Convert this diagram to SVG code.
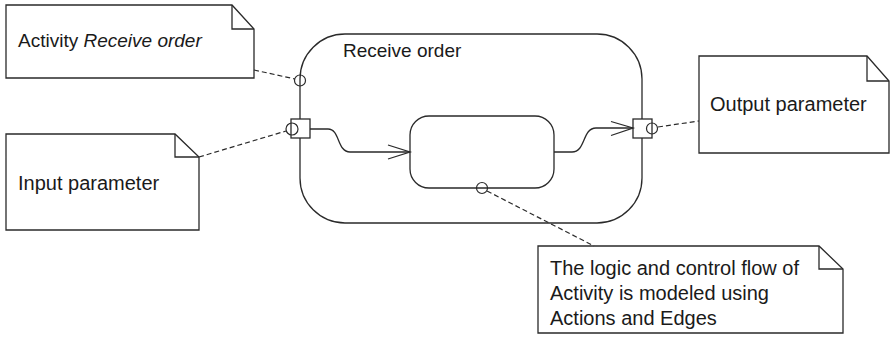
<svg xmlns="http://www.w3.org/2000/svg" width="890" height="344" viewBox="0 0 890 344">
  <style>
    .shape { fill: #ffffff; stroke: #2a2a2a; stroke-width: 1.3; }
    .line { fill: none; stroke: #2a2a2a; stroke-width: 1.3; }
    .dash { fill: none; stroke: #2a2a2a; stroke-width: 1.2; stroke-dasharray: 5 3; }
    .anchor { fill: none; stroke: #2a2a2a; stroke-width: 1.2; }
    .label { font-family: "Liberation Sans", Arial, sans-serif; font-size: 20px; fill: #1a1a1a; }
  </style>
  <rect width="890" height="344" fill="#ffffff"/>

  <!-- Activity frame -->
  <g id="activity">
    <rect class="shape" x="300" y="34" width="342" height="189" rx="45" ry="45"/>
    <text class="label" x="343" y="57" style="font-size:19px">Receive order</text>
  </g>

  <!-- Action inside the activity -->
  <g id="action">
    <rect class="shape" x="410" y="116" width="144" height="72" rx="19" ry="19"/>
  </g>

  <!-- Parameter pins -->
  <g id="pin-input">
    <rect class="shape" x="291" y="119" width="19" height="19"/>
  </g>
  <g id="pin-output">
    <rect class="shape" x="633" y="119" width="19" height="19"/>
  </g>

  <!-- Notes -->
  <g id="note-activity">
    <path class="shape" d="M6 5 H232 L254 29 V78 H6 Z"/>
    <path class="line" d="M232 5 V29 H254"/>
    <text class="label" x="18" y="47" style="font-size:19px">Activity <tspan font-style="italic">Receive order</tspan></text>
  </g>
  <g id="note-input">
    <path class="shape" d="M6 134 H175 L199 157 V230 H6 Z"/>
    <path class="line" d="M175 134 V157 H199"/>
    <text class="label" x="18" y="190">Input parameter</text>
  </g>
  <g id="note-output">
    <path class="shape" d="M699 56 H867 L889 81 V153 H699 Z"/>
    <path class="line" d="M867 56 V81 H889"/>
    <text class="label" x="710" y="111">Output parameter</text>
  </g>
  <g id="note-logic">
    <path class="shape" d="M538 246 H819 L843 269 V333 H538 Z"/>
    <path class="line" d="M819 246 V269 H843"/>
    <text class="label" x="550" y="275">The logic and control flow of</text>
    <text class="label" x="550" y="300">Activity is modeled using</text>
    <text class="label" x="550" y="325">Actions and Edges</text>
  </g>

  <!-- Connectors: control flows and note anchors -->
  <g id="connectors">
    <path class="line" d="M310 129 H328 C340 129 337 152 350 152 H410"/>
    <path class="line" d="M388 145 L410 152 L388 159"/>
    <path class="line" d="M554 152 H572 C586 152 582 128 596 128 H633"/>
    <path class="line" d="M611 121.5 L633 128 L611 135.5"/>

    <path class="dash" d="M254 70 L295 79"/>
    <circle class="anchor" cx="300" cy="80.5" r="5.5"/>

    <path class="dash" d="M199 157 L286 131"/>
    <circle class="anchor" cx="292" cy="129" r="6"/>

    <path class="dash" d="M658 127 L699 121"/>
    <circle class="anchor" cx="652" cy="128.5" r="5.5"/>

    <path class="dash" d="M487 191 L594 246"/>
    <circle class="anchor" cx="482" cy="188" r="5.5"/>
  </g>
</svg>
